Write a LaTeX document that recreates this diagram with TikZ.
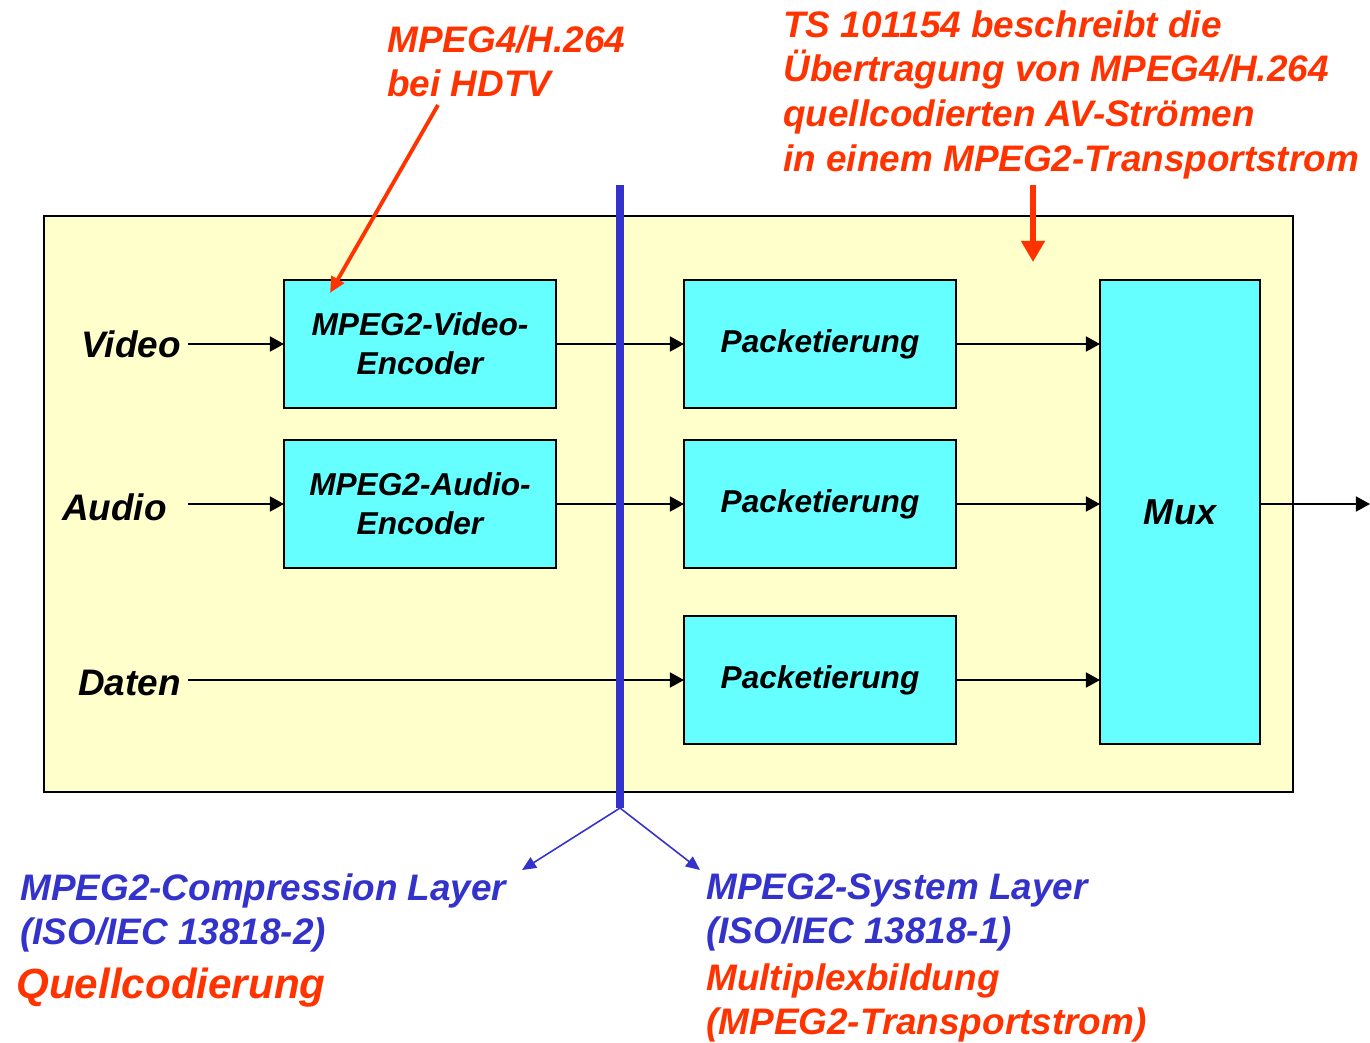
\documentclass[tikz,border=0pt]{standalone}
\usepackage{fontspec}
\setmainfont{Liberation Sans}
\usepackage{xcolor}
\usetikzlibrary{arrows.meta,positioning}
\definecolor{paleyellow}{HTML}{FFFFCC}
\definecolor{boxcyan}{HTML}{66FFFF}
\definecolor{layerblue}{HTML}{3333CC}
\definecolor{notered}{HTML}{FF3300}

\begin{document}
\begin{tikzpicture}[
    >=Stealth,
    frame/.style={draw, line width=1.2pt, fill=paleyellow, inner sep=0pt},
    box/.style={draw, line width=1pt, fill=boxcyan, inner sep=0pt, outer sep=0pt,
                minimum width=5.44cm, minimum height=2.56cm, align=center,
                font=\fontsize{18}{22}\selectfont\bfseries\itshape},
    lbl/.style={inner sep=4pt, font=\fontsize{21}{25}\selectfont\bfseries\itshape},
    arrow/.style={-{Triangle[length=8pt, width=8.5pt]}, line width=1.1pt},
    note/.style={inner sep=0pt, align=left, anchor=north west,
                 font=\fontsize{21}{25.5}\selectfont\bfseries\itshape},
    layer/.style={layerblue, line width=4pt},
    layerarrow/.style={-{Triangle[length=8pt, width=7pt]}, layerblue, line width=0.9pt},
    redarrow/.style={-{Triangle[length=9pt, width=8pt]}, notered, line width=2.2pt},
  ]

  \useasboundingbox (0,0) rectangle (27.4,-20.84);

  \node[frame, minimum width=24.98cm, minimum height=11.52cm] (frame) at (13.37,-10.08) {};

  \node[box] (venc) at (8.4,-6.88) {MPEG2-Video-\\Encoder};
  \node[box, below=0.64cm of venc] (aenc) {MPEG2-Audio-\\Encoder};
  \node[box, right=2.56cm of venc] (pk1) {Packetierung};
  \node[box, right=2.56cm of aenc] (pk2) {Packetierung};
  \node[box, below=0.96cm of pk2] (pk3) {Packetierung};
  \node[box, minimum width=3.2cm, minimum height=9.28cm,
        font=\fontsize{20.5}{24}\selectfont\bfseries\itshape] (mux) at (23.6,-10.24) {Mux};

  \node[lbl, left=1.92cm of venc] (video) {Video};
  \node[lbl, anchor=east] (audio) at (3.48,-10.14) {Audio};
  \node[lbl, anchor=east] (daten) at (3.76,-13.66) {Daten};

  \draw[arrow] (video) -- (venc);
  \draw[arrow] (video.east |- aenc) -- (aenc);
  \draw[arrow] (daten.east |- pk3) -- (pk3);
  \draw[arrow] (venc) -- (pk1);
  \draw[arrow] (aenc) -- (pk2);
  \draw[arrow] (pk1) -- (pk1 -| mux.west);
  \draw[arrow] (pk2) -- (pk2 -| mux.west);
  \draw[arrow] (pk3) -- (pk3 -| mux.west);
  \coordinate (out) at (27.4,-10.08);
  \draw[arrow] (mux.east |- pk2) -- (out);

  \coordinate (layertop) at (12.4,-3.7);
  \coordinate (split) at (12.4,-16.16);
  \draw[layer] (layertop) -- (split);

  \node[note, notered] (hdtv) at (7.74,-0.5) {MPEG4/H.264\\bei HDTV};
  \node[note, notered] (ts) at (15.66,-0.2)
    {TS 101154 beschreibt die\\Übertragung von MPEG4/H.264\\quellcodierten AV-Strömen\\in einem MPEG2-Transportstrom};

  \node[note, layerblue] (compr) at (0.4,-17.46) {MPEG2-Compression Layer\\(ISO/IEC 13818-2)};
  \node[note, notered, font=\fontsize{24}{28}\selectfont\bfseries\itshape] (quell) at (0.32,-19.36) {Quellcodierung};
  \node[note, layerblue] (system) at (14.12,-17.46) {MPEG2-System Layer\\(ISO/IEC 13818-1)};
  \node[note, notered] (mplx) at (14.12,-19.26) {Multiplexbildung\\(MPEG2-Transportstrom)};

  \coordinate (comprtip) at (10.44,-17.4);
  \coordinate (systemtip) at (14.0,-17.4);
  \draw[layerarrow] (split) -- (comprtip);
  \draw[layerarrow] (split) -- (systemtip);

  \coordinate (hdtvfoot) at (8.76,-2.1);
  \coordinate (venctip) at (6.6,-5.86);
  \draw[redarrow] (hdtvfoot) -- (venctip);

  \coordinate (tsfoot) at (20.66,-3.7);
  \coordinate (tstip) at (20.66,-5.24);
  \draw[redarrow, line width=3.4pt, -{Triangle[length=12pt, width=13pt]}] (tsfoot) -- (tstip);

\end{tikzpicture}
\end{document}
